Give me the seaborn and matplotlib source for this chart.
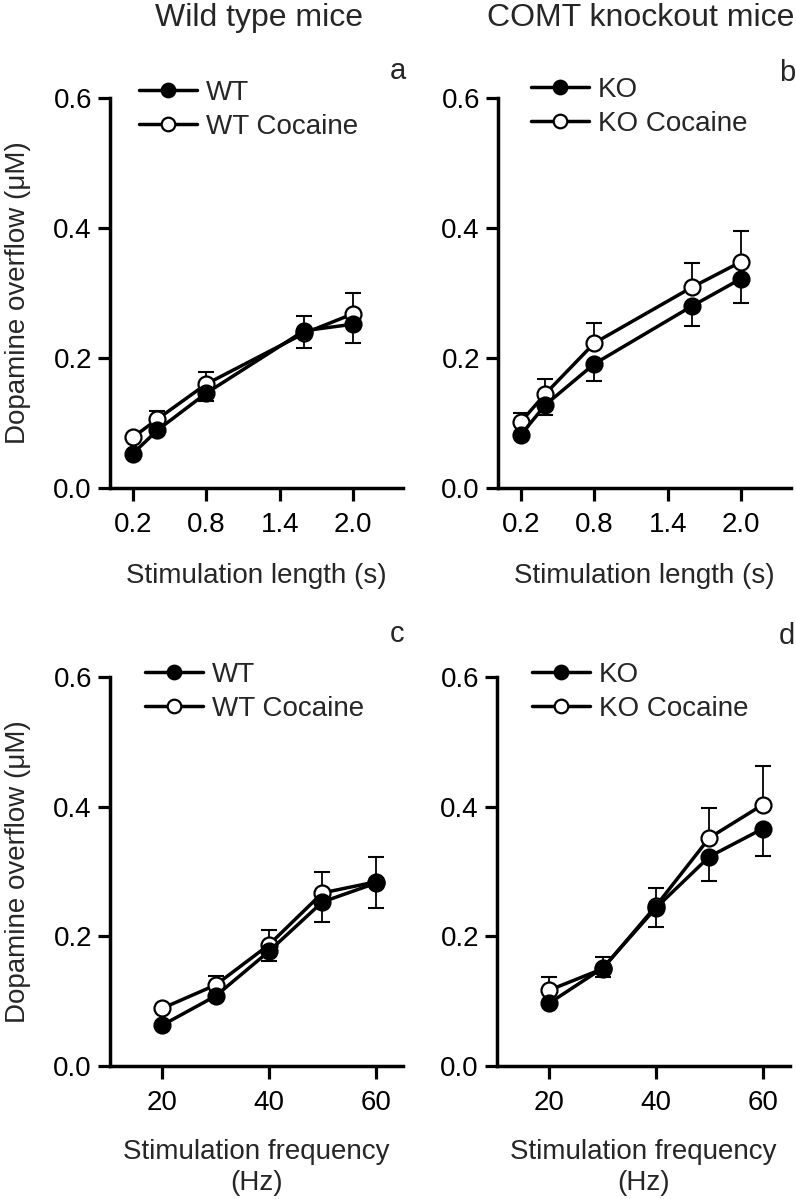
import numpy as np
import pandas as pd
import matplotlib
matplotlib.use("Agg")
import matplotlib.pyplot as plt
from matplotlib.ticker import FormatStrFormatter
import seaborn as sns

# ---- data ----
length_s = [0.2, 0.4, 0.8, 1.6, 2.0]
freq_hz = [20, 30, 40, 50, 60]

# panel a: wild type, stimulation length
wt_len = [0.053, 0.089, 0.146, 0.242, 0.252]
wt_len_lo = [0.0, 0.0, 0.012, 0.0, 0.029]
wt_len_hi = [0.0, 0.0, 0.0, 0.023, 0.0]
wtc_len = [0.078, 0.106, 0.160, 0.238, 0.268]
wtc_len_lo = [0.0, 0.0, 0.0, 0.022, 0.0]
wtc_len_hi = [0.0, 0.012, 0.018, 0.0, 0.032]

# panel b: COMT knockout, stimulation length
ko_len = [0.082, 0.128, 0.191, 0.280, 0.322]
ko_len_lo = [0.0, 0.015, 0.026, 0.031, 0.037]
ko_len_hi = [0.0, 0.0, 0.0, 0.0, 0.0]
koc_len = [0.102, 0.145, 0.223, 0.309, 0.348]
koc_len_lo = [0.0, 0.0, 0.0, 0.0, 0.0]
koc_len_hi = [0.014, 0.023, 0.031, 0.037, 0.048]

# panel c: wild type, stimulation frequency
wt_freq = [0.063, 0.108, 0.177, 0.253, 0.282]
wt_freq_lo = [0.0, 0.0, 0.015, 0.031, 0.038]
wt_freq_hi = [0.0, 0.0, 0.0, 0.0, 0.0]
wtc_freq = [0.089, 0.125, 0.187, 0.267, 0.284]
wtc_freq_lo = [0.0, 0.0, 0.0, 0.0, 0.0]
wtc_freq_hi = [0.0, 0.014, 0.023, 0.032, 0.039]

# panel d: COMT knockout, stimulation frequency
ko_freq = [0.097, 0.151, 0.244, 0.323, 0.366]
ko_freq_lo = [0.0, 0.014, 0.029, 0.038, 0.042]
ko_freq_hi = [0.0, 0.0, 0.0, 0.0, 0.0]
koc_freq = [0.117, 0.150, 0.247, 0.352, 0.403]
koc_freq_lo = [0.0, 0.0, 0.0, 0.0, 0.0]
koc_freq_hi = [0.020, 0.018, 0.028, 0.046, 0.059]

y_ticks = [0.0, 0.2, 0.4, 0.6]
len_ticks = [0.2, 0.8, 1.4, 2.0]
freq_ticks = [20, 40, 60]

col_titles = ["Wild type mice", "COMT knockout mice"]
panel_letters = ["a", "b", "c", "d"]
y_label = "Dopamine overflow (\u03bcM)"
len_label = "Stimulation length (s)"
freq_label = "Stimulation frequency\n(Hz)"

# ---- style ----
sns.set_style("ticks")
plt.rcParams["font.family"] = ["Liberation Sans", "DejaVu Sans"]
plt.rcParams["font.size"] = 20

W, H = 796, 1199
fig = plt.figure(figsize=(W / 100, H / 100), dpi=100)


def fx(px):
    return px / W


def fy(py):
    return 1 - py / H


def add_ax(left, top, right, bottom):
    return fig.add_axes([fx(left), fy(bottom), (right - left) / W, (bottom - top) / H])


ax_a = add_ax(110, 98, 403, 488)
ax_b = add_ax(498, 98, 791, 488)
ax_c = add_ax(110, 677, 403, 1066)
ax_d = add_ax(497, 677, 790, 1066)

panels = [
    (ax_a, length_s, (wt_len, wt_len_lo, wt_len_hi), (wtc_len, wtc_len_lo, wtc_len_hi), "WT"),
    (ax_b, length_s, (ko_len, ko_len_lo, ko_len_hi), (koc_len, koc_len_lo, koc_len_hi), "KO"),
    (ax_c, freq_hz, (wt_freq, wt_freq_lo, wt_freq_hi), (wtc_freq, wtc_freq_lo, wtc_freq_hi), "WT"),
    (ax_d, freq_hz, (ko_freq, ko_freq_lo, ko_freq_hi), (koc_freq, koc_freq_lo, koc_freq_hi), "KO"),
]

legend_pos = [(139, 80), (531, 77), (145, 662), (532, 662)]

for i, (ax, xs, ctrl, coc, name) in enumerate(panels):
    # error bars first so the markers sit on top
    for vals, lo, hi in (coc, ctrl):
        ax.errorbar(xs, vals, yerr=[lo, hi], fmt="none", ecolor="black",
                    elinewidth=1.3, capsize=6, capthick=1.5, zorder=1)
    df_coc = pd.DataFrame({"x": xs, "y": coc[0]})
    df_ctrl = pd.DataFrame({"x": xs, "y": ctrl[0]})
    sns.lineplot(data=df_coc, x="x", y="y", ax=ax, color="black", lw=2.5,
                 marker="o", markersize=11.5, markerfacecolor="white",
                 markeredgecolor="black", markeredgewidth=1.6,
                 label=name + " Cocaine", zorder=2)
    sns.lineplot(data=df_ctrl, x="x", y="y", ax=ax, color="black", lw=2.5,
                 marker="o", markersize=11.5, markerfacecolor="black",
                 markeredgecolor="black", markeredgewidth=1.6,
                 label=name, zorder=3)

    ax.set_ylim(0, 0.6)
    ax.set_yticks(y_ticks)
    ax.yaxis.set_major_formatter(FormatStrFormatter("%.1f"))
    if i < 2:
        ax.set_xlim(0.2 - 23 / 122.5, 2.0 + 50 / 122.5)
        ax.set_xticks(len_ticks)
        ax.xaxis.set_major_formatter(FormatStrFormatter("%.1f"))
        ax.set_xlabel(len_label, labelpad=18)
    else:
        ax.set_xlim(10.2, 65.1)
        ax.set_xticks(freq_ticks)
        ax.set_xlabel(freq_label, labelpad=17, linespacing=1.22)
    if i % 2 == 0:
        ax.set_ylabel(y_label, labelpad=16)
    else:
        ax.set_ylabel("")

    sns.despine(ax=ax)
    for s in ("left", "bottom"):
        ax.spines[s].set_linewidth(2.5)
        ax.spines[s].set_color("black")
    ax.tick_params(axis="both", direction="out", length=9, width=2.3,
                   color="black", labelsize=20, labelcolor="black")
    ax.tick_params(axis="y", pad=4)
    ax.tick_params(axis="x", pad=8)

    handles, labels = ax.get_legend_handles_labels()
    order = [labels.index(name), labels.index(name + " Cocaine")]
    lx, ly = legend_pos[i]
    ax.legend([handles[k] for k in order], [labels[k] for k in order],
              loc="upper left", bbox_to_anchor=(fx(lx), fy(ly)),
              bbox_transform=fig.transFigure, frameon=False, borderpad=0,
              borderaxespad=0, handlelength=2.1, handletextpad=0.3,
              labelspacing=0.28, markerscale=0.85, fontsize=20)

# column titles and panel letters
fig.text(fx(259), fy(18), col_titles[0], ha="center", va="center", fontsize=23)
fig.text(fx(641), fy(18), col_titles[1], ha="center", va="center", fontsize=23)
letter_pos = [(390, 71), (779, 73), (390, 634), (779, 636)]
for letter, (px, py) in zip(panel_letters, letter_pos):
    fig.text(fx(px), fy(py), letter, ha="left", va="center", fontsize=21)

fig.savefig("out.png", dpi=100)
